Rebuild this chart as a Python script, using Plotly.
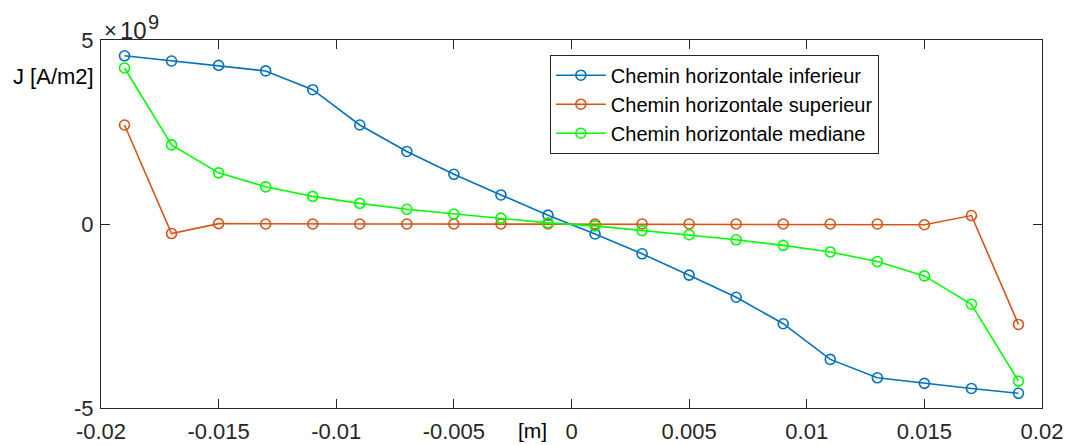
import plotly.graph_objects as go

# Positions along the horizontal paths [m]
x_pos = [-0.019, -0.017, -0.015, -0.013, -0.011, -0.009, -0.007, -0.005, -0.003, -0.001,
         0.001, 0.003, 0.005, 0.007, 0.009, 0.011, 0.013, 0.015, 0.017, 0.019]

# Current density J [A/m2] along each path
j_inferieur = [4.57e9, 4.43e9, 4.31e9, 4.16e9, 3.65e9, 2.69e9, 1.97e9, 1.35e9, 0.79e9, 0.24e9,
               -0.27e9, -0.81e9, -1.39e9, -1.99e9, -2.71e9, -3.68e9, -4.18e9, -4.33e9, -4.47e9, -4.60e9]
j_superieur = [2.69e9, -0.26e9, 0.01e9, 0.0, 0.0, 0.0, 0.0, 0.0, 0.0, 0.0,
               0.0, 0.0, 0.0, 0.0, 0.0, 0.0, 0.0, -0.02e9, 0.23e9, -2.73e9]
j_mediane = [4.24e9, 2.15e9, 1.39e9, 1.01e9, 0.75e9, 0.56e9, 0.40e9, 0.27e9, 0.16e9, 0.03e9,
             -0.05e9, -0.18e9, -0.29e9, -0.43e9, -0.58e9, -0.76e9, -1.02e9, -1.41e9, -2.18e9, -4.27e9]

series_names = ["Chemin horizontale inferieur", "Chemin horizontale superieur",
                "Chemin horizontale mediane"]
series_colors = ["#0072BD", "#D95319", "#00FF00"]

x_tickvals = [-0.02, -0.015, -0.01, -0.005, 0, 0.005, 0.01, 0.015, 0.02]
x_ticktext = ["-0.02", "-0.015", "-0.01", "-0.005", "0", "0.005", "0.01", "0.015", "0.02"]
y_tickvals = [-5e9, 0, 5e9]
y_ticktext = ["-5", "0", "5"]

FONT = "Liberation Sans, Arial, sans-serif"
AXIS_COLOR = "#262626"

fig = go.Figure()
for name, color, values in zip(series_names, series_colors,
                               [j_inferieur, j_superieur, j_mediane]):
    fig.add_trace(go.Scatter(
        x=x_pos, y=values, name=name, mode="lines+markers",
        line=dict(color=color, width=1.6),
        marker=dict(symbol="circle-open", size=10, color=color, line=dict(width=1.6)),
    ))

axis_common = dict(
    showgrid=False, zeroline=False, showline=True, linecolor=AXIS_COLOR, linewidth=1,
    mirror="ticks", ticks="inside", ticklen=9, tickcolor=AXIS_COLOR, tickwidth=1,
    tickfont=dict(family=FONT, size=22, color=AXIS_COLOR), automargin=False,
)

fig.update_xaxes(range=[-0.02, 0.02], tickvals=x_tickvals, ticktext=x_ticktext,
                 ticklabelstandoff=4, **axis_common)
fig.update_yaxes(range=[-5e9, 5e9], tickvals=y_tickvals, ticktext=y_ticktext,
                 ticklabelstandoff=2, **axis_common)

fig.update_layout(
    width=1072, height=445,
    margin=dict(l=101, r=30, t=40, b=37),
    paper_bgcolor="white", plot_bgcolor="white",
    font=dict(family=FONT, size=22, color=AXIS_COLOR),
    showlegend=True,
    legend=dict(
        x=0.477, y=0.96, xanchor="left", yanchor="top",
        bgcolor="white", bordercolor=AXIS_COLOR, borderwidth=1,
        font=dict(family=FONT, size=20, color="black"),
        itemwidth=50, tracegroupgap=0,
    ),
    annotations=[
        # exponent marker above the y axis: "×10^9"
        dict(text="\u00d7", xref="paper", yref="paper", x=0, y=1,
             xanchor="left", yanchor="bottom", showarrow=False, xshift=1, yshift=-5,
             font=dict(family=FONT, size=22, color=AXIS_COLOR)),
        dict(text="10", xref="paper", yref="paper", x=0, y=1,
             xanchor="left", yanchor="bottom", showarrow=False, xshift=17, yshift=-6,
             font=dict(family=FONT, size=24, color=AXIS_COLOR)),
        dict(text="9", xref="paper", yref="paper", x=0, y=1,
             xanchor="left", yanchor="bottom", showarrow=False, xshift=45, yshift=5,
             font=dict(family=FONT, size=20, color=AXIS_COLOR)),
        dict(text="J [A/m2]", xref="paper", yref="paper", x=0, y=0.9,
             xanchor="right", yanchor="middle", showarrow=False, xshift=-5,
             font=dict(family=FONT, size=22, color="black")),
        dict(text="[m]", xref="x", yref="paper", x=-0.00165, y=0,
             xanchor="center", yanchor="top", showarrow=False, yshift=-9,
             font=dict(family=FONT, size=21, color="black")),
    ],
)

fig.write_html("out.html")
